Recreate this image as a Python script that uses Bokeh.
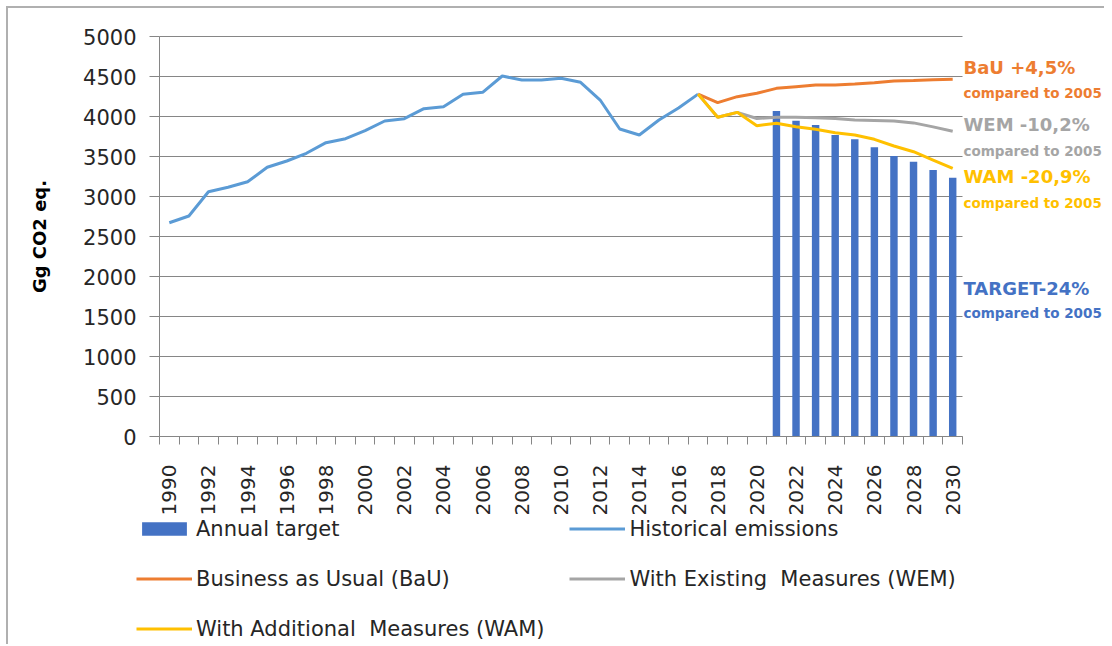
import math
from bokeh.plotting import figure
from bokeh.models import FixedTicker, Range1d, Legend, LegendItem, ColumnDataSource
from bokeh.core.properties import value
from bokeh.embed import file_html
from bokeh.resources import INLINE

# ---------------- data ----------------
hist_years = [1990, 1991, 1992, 1993, 1994, 1995, 1996, 1997, 1998, 1999,
              2000, 2001, 2002, 2003, 2004, 2005, 2006, 2007, 2008, 2009,
              2010, 2011, 2012, 2013, 2014, 2015, 2016, 2017]
hist_values = [2672, 2756, 3060, 3115, 3185, 3365, 3444, 3540, 3673, 3723,
               3823, 3944, 3973, 4098, 4123, 4277, 4302, 4506, 4456, 4456,
               4477, 4427, 4206, 3844, 3769, 3956, 4106, 4280]

proj_years = [2017, 2018, 2019, 2020, 2021, 2022, 2023, 2024, 2025, 2026,
              2027, 2028, 2029, 2030]
bau_values = [4280, 4173, 4248, 4290, 4352, 4373, 4394, 4395, 4406, 4423,
              4444, 4450, 4460, 4465]
wem_values = [4280, 3990, 4052, 3975, 3990, 3990, 3985, 3975, 3955, 3950,
              3945, 3920, 3870, 3815]
wam_values = [4280, 3990, 4052, 3885, 3915, 3873, 3840, 3798, 3769, 3715,
              3631, 3560, 3456, 3352]

target_years = [2021, 2022, 2023, 2024, 2025, 2026, 2027, 2028, 2029, 2030]
target_values = [4069, 3948, 3894, 3769, 3715, 3615, 3506, 3435, 3331, 3235]

y_ticks = [0, 500, 1000, 1500, 2000, 2500, 3000, 3500, 4000, 4500, 5000]
x_label_years = [1990, 1992, 1994, 1996, 1998, 2000, 2002, 2004, 2006, 2008,
                 2010, 2012, 2014, 2016, 2018, 2020, 2022, 2024, 2026, 2028, 2030]
x_boundaries = [y - 0.5 for y in range(1990, 2032)]

series_names = ["Annual target", "Historical emissions", "Business as Usual (BaU)",
                "With Existing  Measures (WEM)", "With Additional  Measures (WAM)"]

ann_texts = ["BaU +4,5%", "compared to 2005", "WEM -10,2%", "compared to 2005",
             "WAM -20,9%", "compared to 2005", "TARGET-24%", "compared to 2005"]
ann_y = [4612, 4300, 3900, 3575, 3250, 2925, 1850, 1550]

# ---------------- styles / geometry ----------------
C_BAR = "#4472C4"
C_HIST = "#5B9BD5"
C_BAU = "#ED7D31"
C_WEM = "#A5A5A5"
C_WAM = "#FFC000"
AX = "#868686"
TXT = "#262626"
FONT = "DejaVu Sans"

W, H = 1104, 644
X0, X1 = 1989.5, 2030.5          # category area of the chart
Y0, Y1 = 0, 5000
PX_LEFT, PX_RIGHT = 159, 962      # where X0 / X1 sit on the canvas
PX_TOP, PX_BOTTOM = 36, 436       # where Y1 / Y0 sit on the canvas
sx = (PX_RIGHT - PX_LEFT) / (X1 - X0)
sy = (PX_BOTTOM - PX_TOP) / (Y1 - Y0)
x_range = Range1d(X0 - PX_LEFT / sx, X1 + (W - PX_RIGHT) / sx)
y_range = Range1d(Y0 - (H - PX_BOTTOM) / sy, Y1 + PX_TOP / sy)

p = figure(width=W, height=H, x_range=x_range, y_range=y_range,
           output_backend="svg", toolbar_location=None,
           min_border=0, min_border_left=0, min_border_right=0,
           min_border_top=0, min_border_bottom=0)
p.outline_line_color = None
p.background_fill_color = None
p.border_fill_color = None
p.styles = {"background-color": "white",
            "box-shadow": "inset 8px 8px 0 0 #ffffff, inset 8px 8px 0 0 #b0b0b0"}
p.styles = {"box-shadow": "inset 6px 6px 0 0 #ffffff, inset 8px 8px 0 0 #b0b0b0"}

bars = p.vbar(x=target_years, top=target_values, width=0.38, bottom=0,
              fill_color=C_BAR, line_color=None)
r_hist = p.line(hist_years, hist_values, line_color=C_HIST, line_width=3)
r_bau = p.line(proj_years, bau_values, line_color=C_BAU, line_width=3)
r_wem = p.line(proj_years, wem_values, line_color=C_WEM, line_width=3)
r_wam = p.line(proj_years, wam_values, line_color=C_WAM, line_width=3)

# y axis (pinned at the left edge of the category area)
yt = FixedTicker(ticks=y_ticks)
p.yaxis.ticker = yt
p.yaxis.fixed_location = X0
p.yaxis.bounds = (Y0, Y1)
p.ygrid.ticker = yt
p.ygrid.grid_line_color = AX
p.ygrid.grid_line_width = 1
p.ygrid.cross_bounds = (X0, X1)
p.xgrid.grid_line_color = None
p.yaxis.axis_line_color = AX
p.yaxis.major_tick_line_color = AX
p.yaxis.major_tick_out = 10
p.yaxis.major_tick_in = 0
p.yaxis.minor_tick_line_color = None
p.yaxis.major_label_standoff = 13
p.yaxis.major_label_text_font = FONT
p.yaxis.major_label_text_font_size = "21px"
p.yaxis.major_label_text_color = TXT
p.yaxis.axis_label = "Gg CO2 eq."
p.yaxis.axis_label_text_font = FONT
p.yaxis.axis_label_text_font_size = "18px"
p.yaxis.axis_label_text_font_style = "bold"
p.yaxis.axis_label_text_color = "#000000"
p.yaxis.axis_label_standoff = 30

# x axis (pinned at y = 0)
xt = FixedTicker(ticks=x_label_years, minor_ticks=x_boundaries)
p.xaxis.ticker = xt
p.xaxis.fixed_location = Y0
p.xaxis.bounds = (X0, X1)
p.xaxis.major_label_overrides = {y: str(y) for y in x_label_years}
p.xaxis.axis_line_color = AX
p.xaxis.major_tick_line_color = None
p.xaxis.major_tick_out = 0
p.xaxis.major_tick_in = 0
p.xaxis.minor_tick_line_color = AX
p.xaxis.minor_tick_out = 8
p.xaxis.minor_tick_in = 0
p.xaxis.major_label_orientation = math.pi / 2
p.xaxis.major_label_standoff = 20
p.xaxis.major_label_text_font = FONT
p.xaxis.major_label_text_font_size = "20px"
p.xaxis.major_label_text_color = TXT

# legend under the axis, two columns
legend = Legend(items=[LegendItem(label=n, renderers=[r]) for n, r in
                       zip(series_names, [bars, r_hist, r_bau, r_wem, r_wam])],
                orientation="horizontal", ncols=2,
                location=(136, 3), margin=0, padding=0, spacing=25,
                glyph_width=56, glyph_height=17, label_height=25, label_width=348,
                label_standoff=4,
                label_text_font=FONT, label_text_font_size="21px",
                label_text_color=TXT,
                background_fill_alpha=0, border_line_alpha=0)
p.add_layout(legend, "center")

# right-hand annotations
ann_src = ColumnDataSource(dict(
    x=[2030.55] * len(ann_texts), y=ann_y, text=ann_texts,
    color=[C_BAU, C_BAU, C_WEM, C_WEM, C_WAM, C_WAM, C_BAR, C_BAR],
    size=["18px", "13.5px", "18px", "13.5px", "18px", "13.5px", "18px", "13.5px"]))
p.text(x="x", y="y", text="text", source=ann_src, text_color="color",
       text_font_size="size", text_font=value(FONT), text_font_style="bold",
       text_baseline="middle", text_align="left")

open("out.html", "w").write(file_html(p, INLINE))
